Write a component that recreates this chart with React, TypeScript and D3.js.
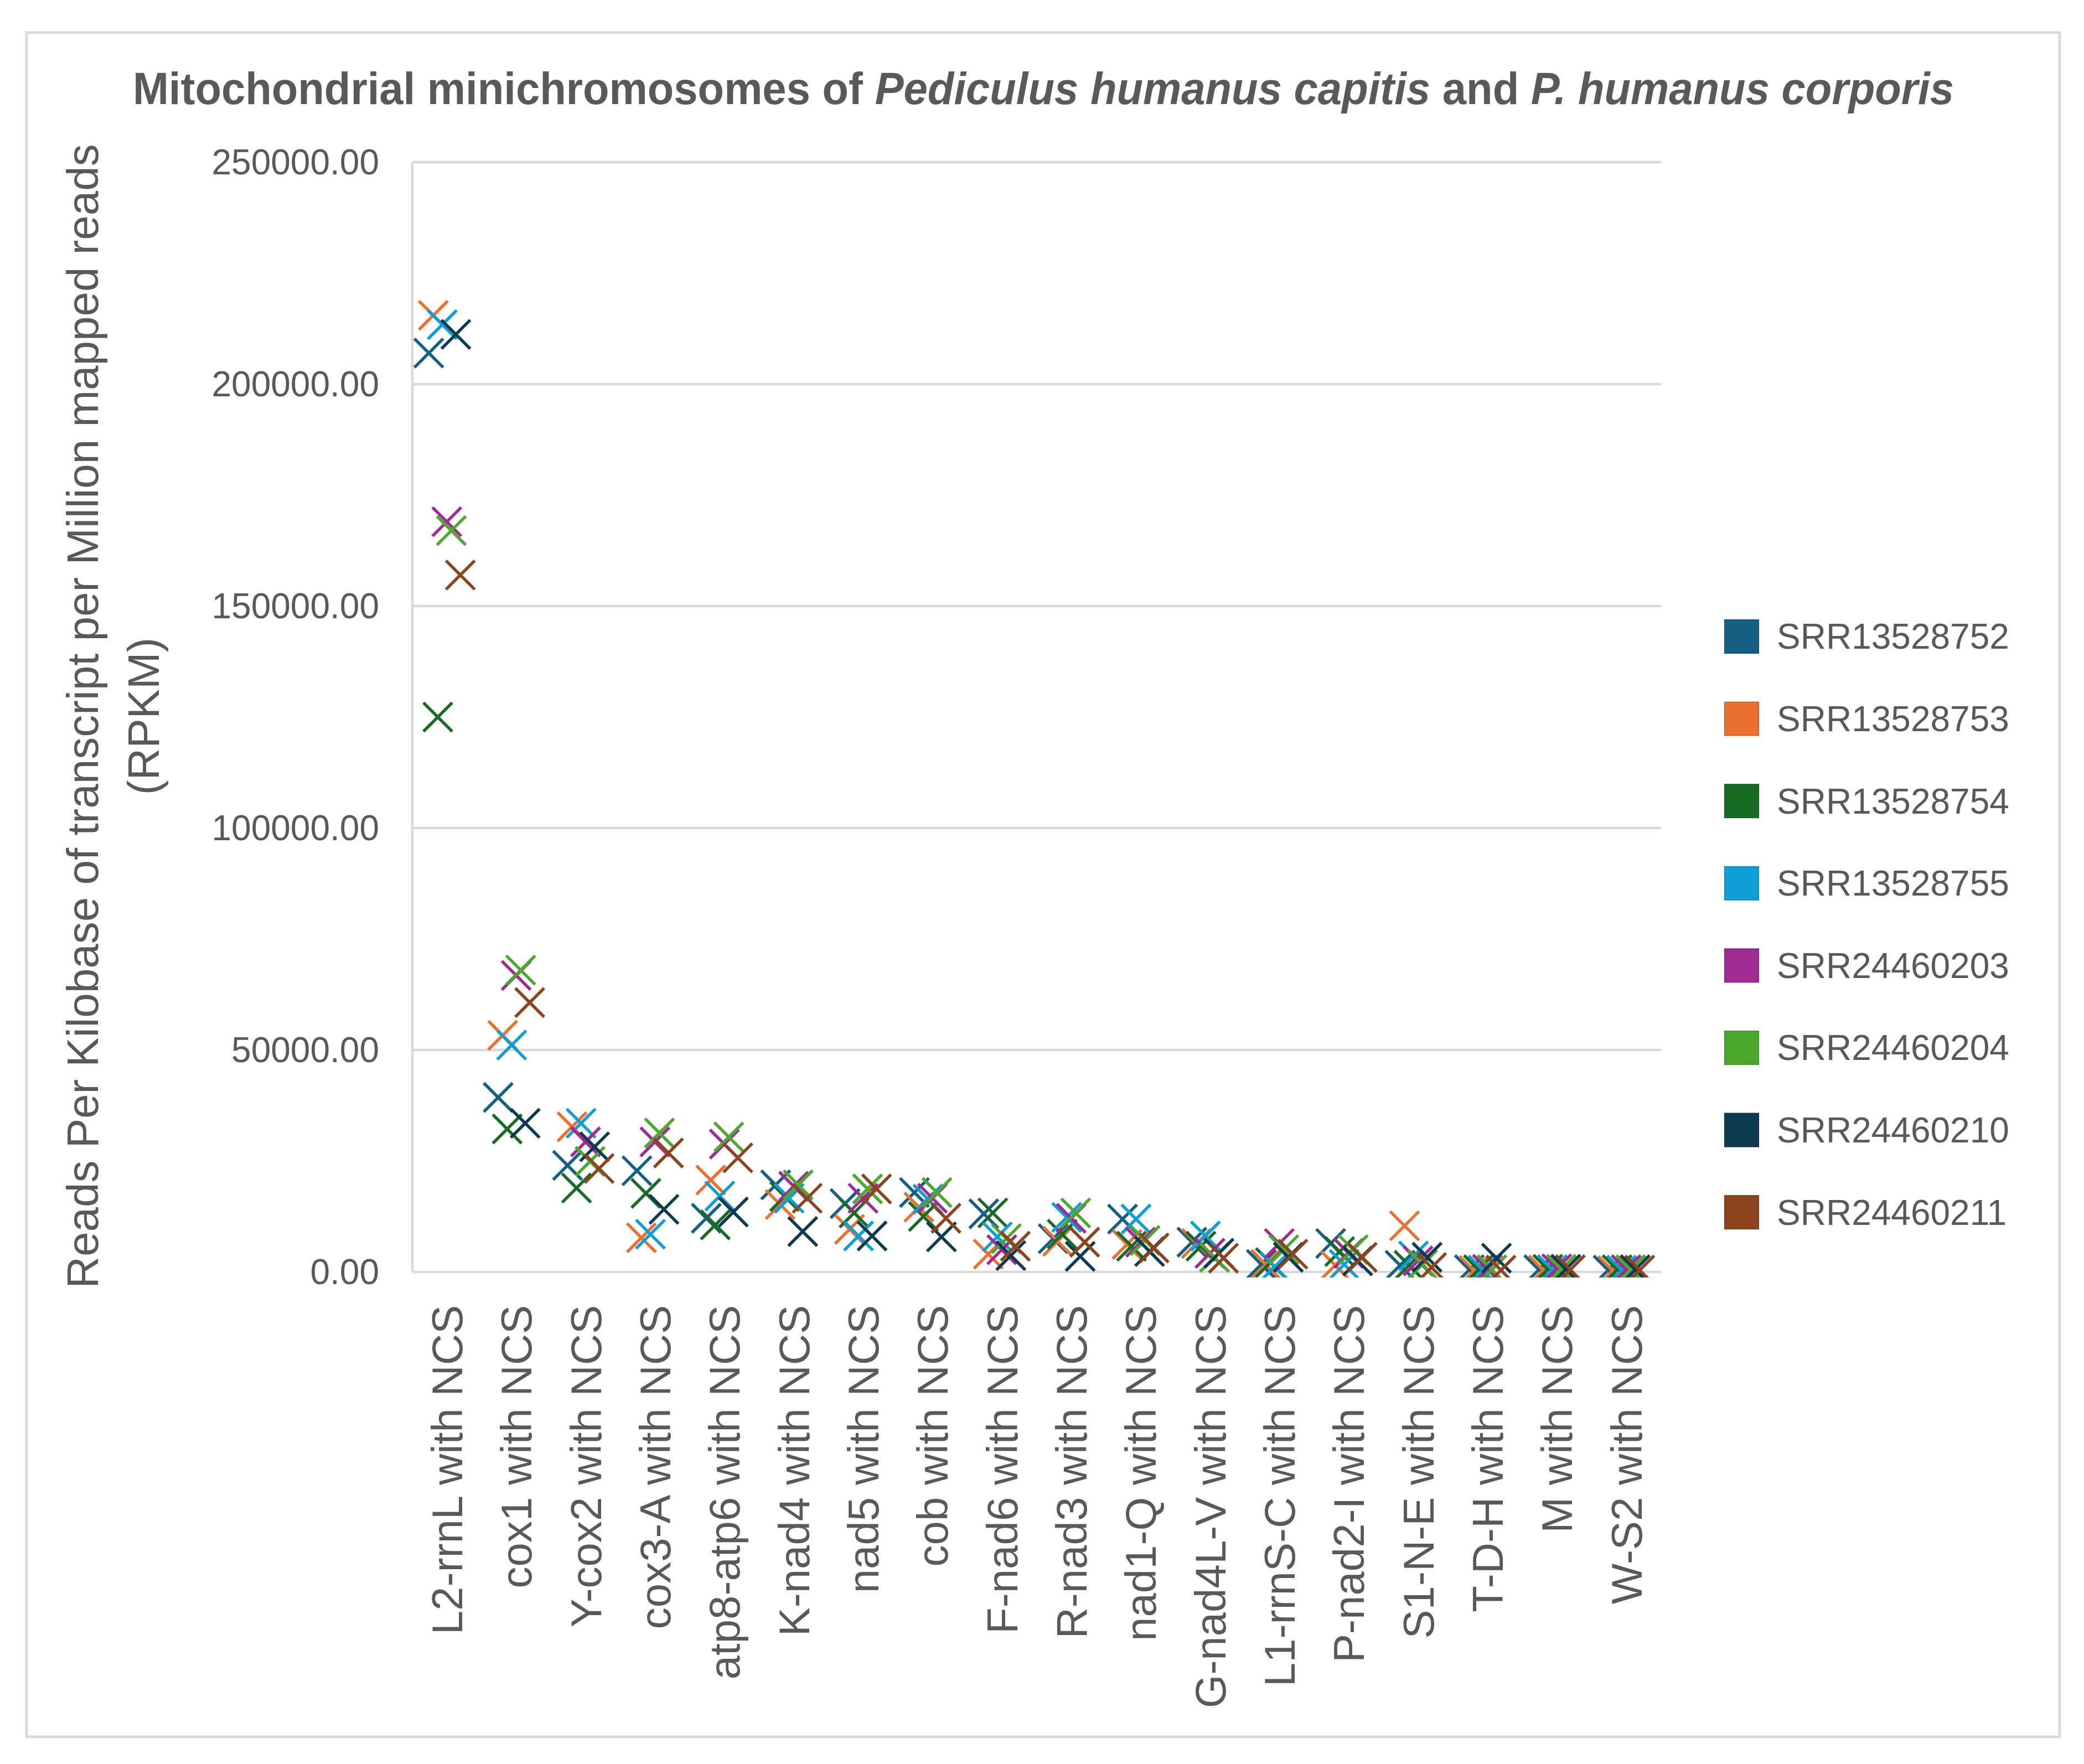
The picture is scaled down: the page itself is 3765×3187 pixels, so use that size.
import React, { useEffect } from "react";
import * as d3 from "d3";

const categories = [
  "L2-rrnL with NCS", "cox1 with NCS", "Y-cox2 with NCS", "cox3-A with NCS",
  "atp8-atp6 with NCS", "K-nad4 with NCS", "nad5 with NCS", "cob with NCS",
  "F-nad6 with NCS", "R-nad3 with NCS", "nad1-Q with NCS", "G-nad4L-V with NCS",
  "L1-rrnS-C with NCS", "P-nad2-I with NCS", "S1-N-E with NCS", "T-D-H with NCS",
  "M with NCS", "W-S2 with NCS",
];

const seriesNames = [
  "SRR13528752", "SRR13528753", "SRR13528754", "SRR13528755",
  "SRR24460203", "SRR24460204", "SRR24460210", "SRR24460211",
];

const SRR13528752 = [207000, 39300, 24000, 22800, 12100, 19600, 15400, 17900, 13100, 7500, 11900, 6700, 1700, 6400, 1500, 500, 500, 400];
const SRR13528753 = [215500, 53300, 32700, 7700, 20700, 15200, 9600, 14600, 4000, 6900, 6200, 6400, 1700, 1500, 10400, 300, 400, 300];
const SRR13528754 = [125000, 32200, 18900, 17700, 10600, 17000, 13300, 12500, 13300, 8500, 5800, 5800, 2100, 4600, 1500, 500, 600, 500];
const SRR13528755 = [213400, 51100, 33500, 8500, 17100, 16600, 8100, 16400, 7900, 12300, 11900, 8100, 1200, 1700, 3600, 400, 500, 400];
const SRR24460203 = [169000, 66800, 29300, 29300, 28800, 19300, 16600, 16600, 5000, 12100, 6700, 4200, 6400, 4200, 2500, 600, 700, 500];
const SRR24460204 = [167000, 68000, 24900, 31300, 30400, 19600, 18700, 17900, 7500, 13300, 7100, 3300, 5000, 5000, 1700, 500, 600, 500];
const SRR24460210 = [211200, 33500, 28200, 14100, 13500, 9100, 8100, 7900, 3700, 3500, 4600, 4200, 3300, 2500, 3300, 3100, 600, 500];
const SRR24460211 = [157000, 60700, 23300, 26800, 25700, 16600, 18700, 12100, 5800, 6700, 5400, 3100, 4000, 3300, 1000, 400, 500, 400];

const seriesValues = [
  SRR13528752, SRR13528753, SRR13528754, SRR13528755,
  SRR24460203, SRR24460204, SRR24460210, SRR24460211,
];

const seriesColors = ["#156082", "#E97132", "#196B24", "#0F9ED5", "#A02B93", "#4EA72E", "#0D3A4E", "#8C441E"];

const yTicks = [0, 50000, 100000, 150000, 200000, 250000];

const W = 3765;
const H = 3187;
const plot = { left: 745, right: 3001, top: 293, bottom: 2298 };
const FONT = "'Liberation Sans', Arial, sans-serif";
const GRAY = "#595959";

export default function App() {
  useEffect(() => {
    document.body.style.margin = "0";
  }, []);

  const x = d3.scaleBand<string>().domain(categories).range([plot.left, plot.right]);
  const xs = d3.scalePoint<string>().domain(seriesNames).range([-33, 24]);
  const y = d3.scaleLinear().domain([0, 250000]).range([plot.bottom, plot.top]);
  const ms = 26;

  return (
    <svg width={W} height={H} viewBox={`0 0 ${W} ${H}`} style={{ display: "block", background: "#fff" }}>
      <defs>
        <clipPath id="plotClip">
          <rect x={plot.left - 40} y={plot.top - 40} width={plot.right - plot.left + 80} height={plot.bottom - plot.top + 50} />
        </clipPath>
      </defs>
      <rect x={48} y={59} width={3721 - 48} height={3138 - 59} fill="#fff" stroke="#D9D9D9" strokeWidth={5} />

      <text x={1885} y={188} textAnchor="middle" fontFamily={FONT} fontWeight="bold" fontSize={82} fill={GRAY}
        textLength={3290} lengthAdjust="spacingAndGlyphs">
        Mitochondrial minichromosomes of <tspan fontStyle="italic">Pediculus humanus capitis</tspan> and <tspan fontStyle="italic">P. humanus corporis</tspan>
      </text>

      {yTicks.map((t) => (
        <g key={t}>
          <line x1={plot.left} x2={plot.right} y1={y(t)} y2={y(t)} stroke="#D9D9D9" strokeWidth={4.5} />
          <text x={685} y={y(t)} dy="0.35em" textAnchor="end" fontFamily={FONT} fontSize={64} fill={GRAY}>
            {t.toFixed(2)}
          </text>
        </g>
      ))}
      <line x1={plot.left} x2={plot.left} y1={plot.top} y2={plot.bottom} stroke="#D9D9D9" strokeWidth={4.5} />

      <g transform={`translate(149,1294) rotate(-90)`}>
        <text x={0} y={0} dy="0.35em" textAnchor="middle" fontFamily={FONT} fontSize={80} fill={GRAY}>
          Reads Per Kilobase of transcript per Million mapped reads
        </text>
      </g>
      <g transform={`translate(259,1294) rotate(-90)`}>
        <text x={0} y={0} dy="0.35em" textAnchor="middle" fontFamily={FONT} fontSize={80} fill={GRAY}>
          (RPKM)
        </text>
      </g>

      {categories.map((c) => (
        <g key={c} transform={`translate(${(x(c) as number) + x.bandwidth() / 2},2358) rotate(-90)`}>
          <text x={0} y={0} dy="0.35em" textAnchor="end" fontFamily={FONT} fontSize={78} fill={GRAY}>
            {c}
          </text>
        </g>
      ))}

      <g clipPath="url(#plotClip)">
        {seriesNames.map((s, si) => (
          <g key={s} stroke={seriesColors[si]} strokeWidth={5.5} strokeLinecap="butt" fill="none">
            {categories.map((c, ci) => {
              const cx = (x(c) as number) + x.bandwidth() / 2 + (xs(s) as number);
              const cy = y(seriesValues[si][ci]);
              return (
                <path key={c} d={`M${cx - ms},${cy - ms}L${cx + ms},${cy + ms}M${cx - ms},${cy + ms}L${cx + ms},${cy - ms}`} />
              );
            })}
          </g>
        ))}
      </g>

      {seriesNames.map((s, si) => {
        const cy = 1150 + si * 148.6;
        return (
          <g key={s}>
            <rect x={3116} y={cy - 30} width={61} height={60} fill={seriesColors[si]} stroke={d3.color(seriesColors[si])!.darker(0.3).toString()} strokeWidth={2} />
            <text x={3210} y={cy} dy="0.35em" fontFamily={FONT} fontSize={64} fill={GRAY}>
              {s}
            </text>
          </g>
        );
      })}
    </svg>
  );
}
